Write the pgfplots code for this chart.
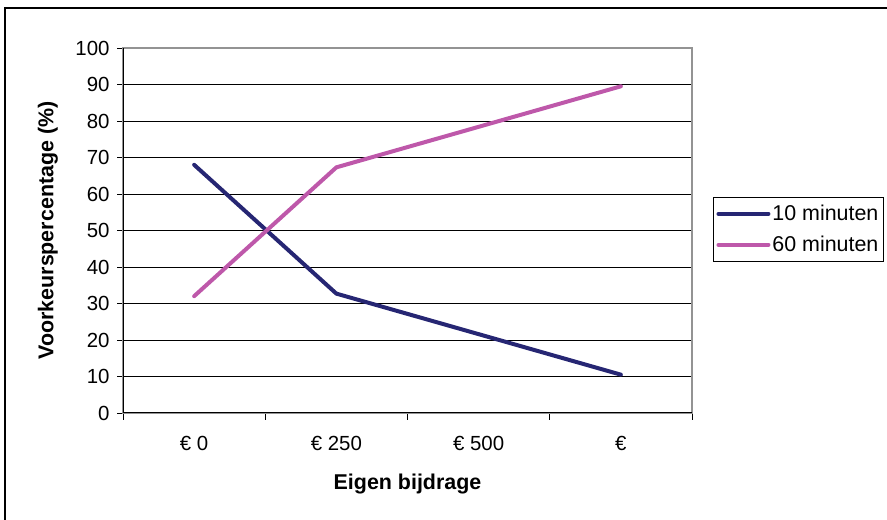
\documentclass[border=0pt]{standalone}
\usepackage{pgfplots}
\pgfplotsset{compat=1.18}
\usepackage{fontspec}
\setmainfont{Liberation Sans}
\definecolor{navyline}{RGB}{38,38,115}
\definecolor{pinkline}{RGB}{190,88,170}
\begin{document}
\begin{tikzpicture}[x=1bp,y=1bp]
\useasboundingbox (0,0) rectangle (887,520);
\draw[line width=1.2bp] (5,-5) -- (5,512) -- (895,512);
\begin{axis}[
  at={(123bp,107bp)}, anchor=south west,
  scale only axis, width=569bp, height=365bp,
  xmin=-0.5, xmax=3.5, ymin=0, ymax=100,
  xtick={0,1,2,3}, xticklabels={€ 0, € 250, € 500, €},
  major x tick style={draw=none},
  minor xtick={-0.5,0.5,1.5,2.5,3.5},
  ytick={0,10,...,100},
  xtick pos=bottom, ytick pos=left,
  ymajorgrids, grid style={black, line width=0.8bp},
  tick align=outside, major tick length=6bp, minor tick length=7bp,
  tick style={black, line width=0.8bp},
  axis line style={gray!85, line width=1.5bp},
  /pgf/number format/assume math mode=true,
  ticklabel style={font=\fontsize{20.5}{24}\selectfont},
  xticklabel style={yshift=-14bp},
  yticklabel style={xshift=-4bp},
  xlabel={\bfseries Eigen bijdrage},
  ylabel={\bfseries Voorkeurspercentage (\%)},
  label style={font=\fontsize{21.5}{25}\selectfont},
  xlabel style={at={(axis description cs:0.5,-0.195)}, anchor=center},
  ylabel style={at={(axis description cs:-0.132,0.5)}, anchor=center, rotate=0},
  legend style={at={(1.037,0.592)}, anchor=north west, draw=black, line width=0.8bp,
    font=\fontsize{21.5}{25}\selectfont, row sep=10bp, inner xsep=3bp, inner ysep=6bp,
    legend cell align=left},
  legend image code/.code={\draw[#1, line width=4bp, line cap=round] (0bp,0bp) -- (50bp,0bp);},
]
\addplot[navyline, line width=4bp, line cap=round, line join=round] coordinates {(0,68) (1,32.7) (2,21.6) (3,10.5)};
\addlegendentry{10 minuten\hspace{12bp}}
\addplot[pinkline, line width=4bp, line cap=round, line join=round] coordinates {(0,32) (1,67.3) (2,78.4) (3,89.5)};
\addlegendentry{60 minuten\hspace{12bp}}
\draw[black, line width=1.5bp] (axis description cs:0,1) -- (axis description cs:0,0) -- (axis description cs:1,0);
\end{axis}
\end{tikzpicture}
\end{document}
